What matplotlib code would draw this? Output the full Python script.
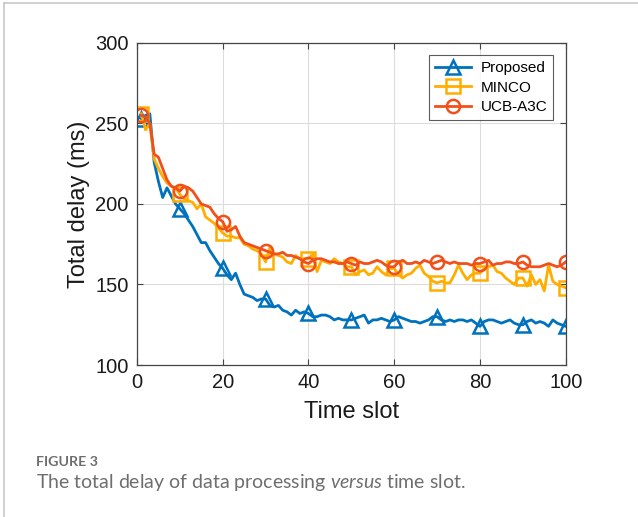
""" Total delay of data processing versus time slot """

import matplotlib
import matplotlib.pyplot as plt
from matplotlib.lines import Line2D

matplotlib.use('Agg')

plt.rcParams['font.family'] = ['Liberation Sans', 'DejaVu Sans']
plt.rcParams['mathtext.fontset'] = 'custom'
plt.rcParams['mathtext.rm'] = 'Lato'
plt.rcParams['mathtext.it'] = 'Lato:italic'

# data, time slots 1..100
time_slots = list(range(1, 101))

proposed = [
    253, 255, 256, 226, 214, 204, 210, 205, 200, 197,
    194, 190, 186, 181, 176, 176, 171, 167, 163, 160,
    156, 153, 157, 150, 144, 143, 142, 140, 141, 141,
    137, 136, 137, 134, 133, 131, 134, 132, 133, 132,
    130, 130, 131, 131, 130, 128, 129, 128, 128, 128,
    129, 130, 131, 126, 128, 128, 129, 128, 127, 128,
    130, 129, 128, 127, 127, 126, 127, 128, 130, 130,
    128, 127, 128, 127, 128, 128, 127, 128, 126, 124,
    127, 128, 128, 127, 126, 127, 128, 126, 125, 125,
    127, 128, 126, 127, 126, 124, 128, 126, 125, 124,
]

minco = [
    256, 246, 250, 228, 222, 217, 213, 211, 210, 206,
    203, 202, 201, 197, 200, 192, 190, 188, 185, 182,
    180, 180, 179, 179, 175, 174, 172, 171, 169, 164,
    173, 169, 168, 167, 164, 163, 168, 166, 166, 166,
    169, 158, 165, 164, 163, 166, 164, 163, 161, 161,
    156, 158, 159, 156, 157, 161, 158, 156, 160, 160,
    156, 154, 156, 157, 160, 162, 157, 155, 152, 151,
    152, 151, 151, 156, 162, 157, 153, 156, 157, 157,
    160, 161, 162, 158, 157, 154, 152, 150, 154, 154,
    149, 156, 150, 153, 146, 162, 152, 150, 149, 148,
]

ucb_a3c = [
    255, 254, 250, 231, 229, 222, 215, 211, 210, 208,
    211, 210, 208, 204, 200, 199, 198, 194, 191, 189,
    183, 184, 186, 180, 176, 175, 174, 173, 172, 171,
    170, 169, 169, 170, 168, 168, 167, 166, 164, 163,
    165, 166, 166, 165, 164, 164, 163, 163, 164, 163,
    162, 164, 163, 163, 164, 165, 164, 162, 161, 161,
    164, 165, 163, 163, 164, 163, 165, 164, 163, 164,
    165, 164, 163, 164, 163, 163, 163, 162, 163, 163,
    164, 165, 162, 163, 163, 164, 164, 163, 163, 164,
    162, 161, 161, 161, 162, 163, 162, 161, 162, 164,
]

series_names = ["Proposed", "MINCO", "UCB-A3C"]
series_colors = ["#0072BD", "#FFAE00", "#F2501A"]
series_markers = ["^", "s", "o"]
marker_slots = [0] + list(range(9, 100, 10))

x_ticks = [0, 20, 40, 60, 80, 100]
y_ticks = [100, 150, 200, 250, 300]

fig = plt.figure(figsize=(6.38, 5.17), dpi=100)
ax = fig.add_axes([0.2147, 0.294, 0.672, 0.623])

for values, name, color, marker in zip(
        [proposed, minco, ucb_a3c], series_names, series_colors, series_markers):
    ax.plot(time_slots, values, color=color, linewidth=2.0, label=name,
            marker=marker, markersize=9.5, markerfacecolor="none",
            markeredgewidth=1.8, markevery=marker_slots)

ax.set_xlim(0, 100)
ax.set_ylim(100, 300)
ax.set_xticks(x_ticks)
ax.set_yticks(y_ticks)
ax.grid(color="#dcdcdc", linewidth=0.8)
ax.set_axisbelow(True)
ax.tick_params(direction="in", length=4, width=0.8, colors="#444444",
               labelcolor="#1a1a1a", labelsize=14.5, top=True, right=True)
ax.tick_params(axis="x", pad=6)
ax.tick_params(axis="y", pad=6)
for spine in ax.spines.values():
    spine.set_color("#444444")
    spine.set_linewidth(0.9)

ax.set_xlabel("Time slot", fontsize=17, color="#1a1a1a", labelpad=6)
ax.set_ylabel("Total delay (ms)", fontsize=17, color="#1a1a1a", labelpad=4)

leg = ax.legend(loc="upper right", fontsize=11, frameon=True, fancybox=False,
                borderaxespad=0.8, handlelength=2.4, labelspacing=0.35,
                borderpad=0.4, handletextpad=0.6)
leg.get_frame().set_edgecolor("#333333")
leg.get_frame().set_linewidth(0.8)

# page frame and caption
fig.add_artist(Line2D([3.5 / 638, 1], [1 - 2.5 / 517, 1 - 2.5 / 517],
                      color="#c8c8c8", linewidth=1.2))
fig.add_artist(Line2D([3.5 / 638, 3.5 / 638], [0, 1 - 2.5 / 517],
                      color="#c8c8c8", linewidth=1.2))

fig.text(36 / 638, 1 - 466 / 517, "FIGURE 3", family="Lato", weight="bold",
         fontsize=10.3, color="#6e6e6e", va="baseline")
fig.text(36 / 638, 1 - 488 / 517,
         r"The total delay of data processing $\mathit{versus}$ time slot.",
         family="Lato", fontsize=14, color="#6e6e6e", va="baseline")

plt.savefig("out.png", dpi=100)
